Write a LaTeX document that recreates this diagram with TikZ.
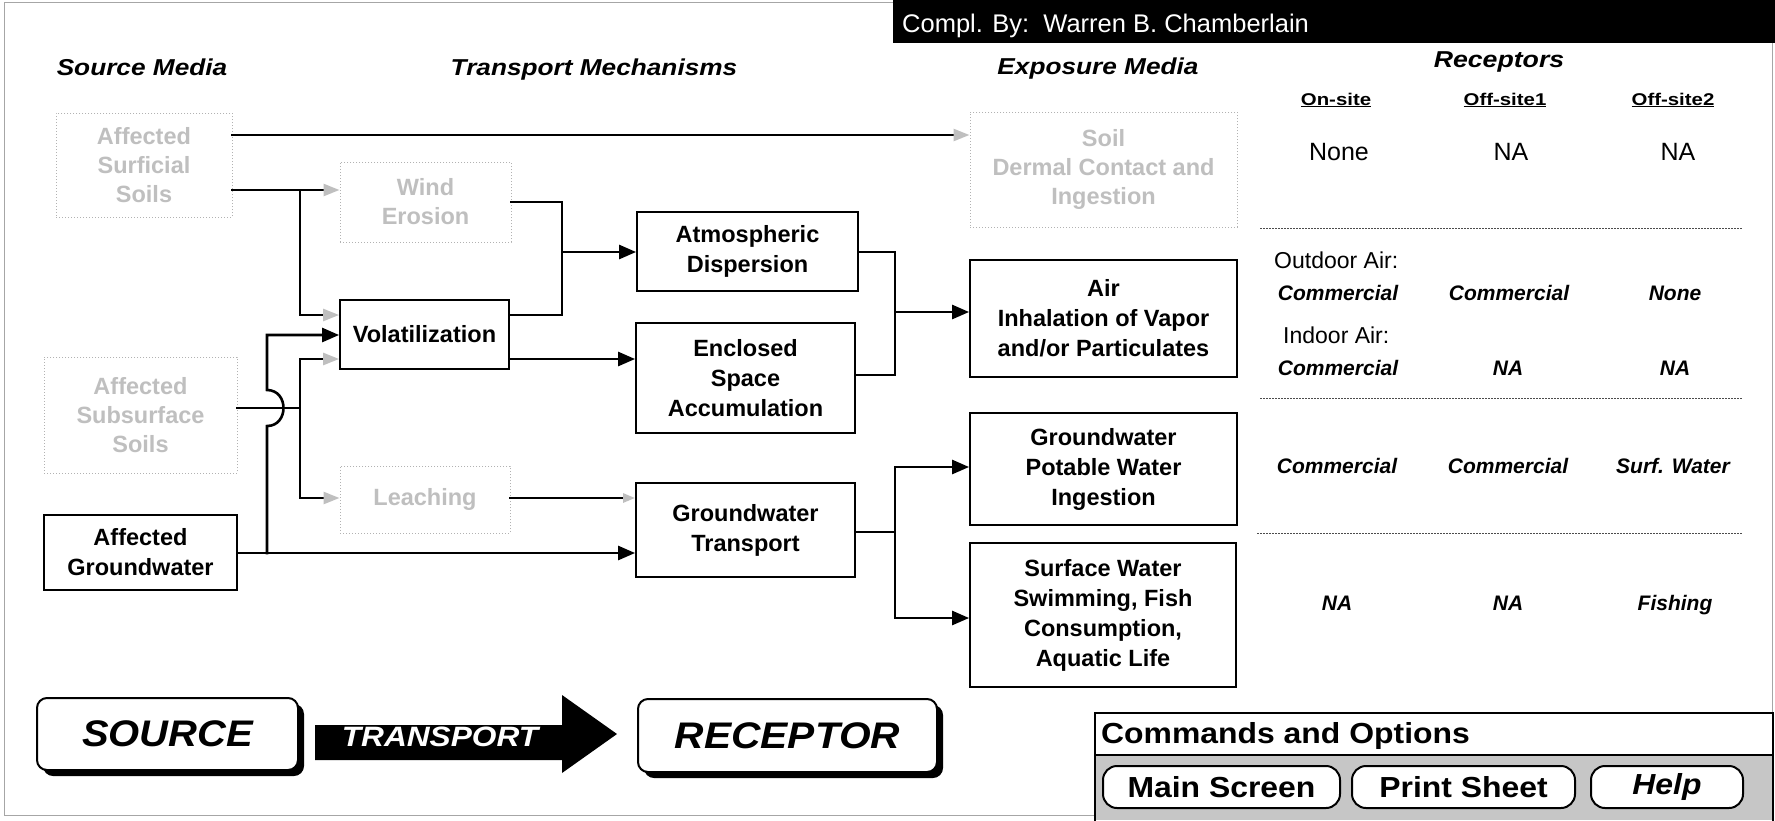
\documentclass[tikz,border=0pt]{standalone}
\usepackage{fontspec}
\setmainfont{Liberation Sans}
\usepackage{graphicx}
\usetikzlibrary{arrows.meta}
\newcommand{\myfs}[2]{\fontsize{#1}{#2}\selectfont}
\newcommand{\hst}[2]{\scalebox{#1}[1]{#2}}
\tikzset{
  bx/.style={draw, line width=1.8, fill=white, align=center, inner sep=0, font=\bfseries\myfs{23.5}{30}},
  gbx/.style={draw=gray!60, dotted, line width=1, fill=white, align=center, inner sep=0, text=gray!50, font=\bfseries\myfs{23.5}{29}},
  hdr/.style={anchor=base, inner sep=0, font=\bfseries\itshape\myfs{23}{27}},
  sub/.style={anchor=base, inner sep=0, font=\bfseries\myfs{17}{20}},
  cellr/.style={inner sep=0, font=\myfs{25}{30}},
  cellb/.style={inner sep=0, font=\bfseries\itshape\myfs{21}{25}},
  lab/.style={anchor=west, inner sep=0, font=\myfs{23}{28}},
  conn/.style={line width=2.6, line cap=rect},
  barrow/.style={-{Triangle[length=17pt,width=14pt]}},
  garrow/.style={-{Triangle[length=16pt,width=12pt,color=gray!50]}},
  sgarrow/.style={-{Triangle[length=12pt,width=9pt,color=gray!50]}},
  tdot/.style={black!70, line width=1, dash pattern=on 1.5pt off 1.5pt},
  btn/.style={draw, line width=2, fill=white, rounded corners=14, inner sep=0, font=\bfseries\myfs{29}{32}},
  bigbox/.style={draw, line width=2, fill=white, rounded corners=10, inner sep=0, font=\bfseries\itshape\myfs{37}{40}}
}
\begin{document}
\begin{tikzpicture}[x=1pt,y=-1pt]
\useasboundingbox (0,0) rectangle (1775,820);
\fill[white] (0,0) rectangle (1775,820);
\draw[gray!70, line width=1] (4,2) rectangle (1772,815);
% title bar
\fill[black] (893,0) rectangle (1775,43);
\node[anchor=base west, text=white, font=\myfs{25.5}{30}, inner sep=0] (compl) at (902,32) {Compl. By:\ \ Warren B. Chamberlain};
% headers
\node[hdr] (hsrc) at (142,75) {\hst{1.14}{Source Media}};
\node[hdr] (htr) at (594,75) {\hst{1.14}{Transport Mechanisms}};
\node[hdr] (hexp) at (1098,74) {\hst{1.14}{Exposure Media}};
\node[hdr] (hrec) at (1499,67) {\hst{1.16}{Receptors}};
\node[sub] (on) at (1336,105) {\hst{1.2}{\underline{On-site}}};
\node[sub] (off1) at (1505,105) {\hst{1.2}{\underline{Off-site1}}};
\node[sub] (off2) at (1673,105) {\hst{1.2}{\underline{Off-site2}}};
% boxes
\node[gbx, minimum width=176, minimum height=104] (surf) at (144,165) {Affected\\Surficial\\Soils};
\node[gbx, minimum width=193, minimum height=116] (subs) at (140.5,415) {Affected\\Subsurface\\Soils};
\node[bx, minimum width=193, minimum height=75] (gw) at (140.5,552.5) {Affected\\Groundwater};
\node[gbx, minimum width=171, minimum height=80] (wind) at (425.5,202) {Wind\\Erosion};
\node[bx, minimum width=169, minimum height=69] (vol) at (424.5,334.5) {Volatilization};
\node[gbx, minimum width=170, minimum height=67] (leach) at (425,499.5) {Leaching};
\node[bx, minimum width=221, minimum height=79] (atm) at (747.5,251.5) {Atmospheric\\Dispersion};
\node[bx, minimum width=219, minimum height=110] (encl) at (745.5,378) {Enclosed\\Space\\Accumulation};
\node[bx, minimum width=219, minimum height=94] (gwt) at (745.5,530) {Groundwater\\Transport};
\node[gbx, minimum width=267, minimum height=115] (soil) at (1103.5,169.5) {Soil\\Dermal Contact and\\Ingestion};
\node[bx, minimum width=267, minimum height=117] (air) at (1103.5,318.5) {Air\\Inhalation of Vapor\\and/or Particulates};
\node[bx, minimum width=267, minimum height=112] (gwp) at (1103.5,469) {Groundwater\\Potable Water\\Ingestion};
\node[bx, minimum width=266, minimum height=144] (sw) at (1103,615) {Surface Water\\Swimming, Fish\\Consumption,\\Aquatic Life};
% junction points
\coordinate (ja) at (300,190);
\coordinate (jb) at (300,315);
\coordinate (jc) at (300,359);
\coordinate (jd) at (300,498);
\coordinate (je) at (300,408);
\coordinate (wk) at (562,202);
\coordinate (wl) at (562,315);
\coordinate (wm) at (562,252);
\coordinate (hb) at (267,553);
\coordinate (ha) at (267,426);
\coordinate (hc) at (267,390);
\coordinate (hd) at (267,335);
\coordinate (ak) at (895,252);
\coordinate (al) at (895,375);
\coordinate (am) at (895,312);
\coordinate (gk) at (895,532);
\coordinate (gl) at (895,467);
\coordinate (gm) at (895,618);
% connectors
\draw[conn, garrow] (surf.east |- 0,135) -- (soil.west |- 0,135);
\draw[conn] (surf.east |- ja) -- (ja);
\draw[conn, garrow] (ja) -- (wind.west |- ja);
\draw[conn] (ja) -- (jb);
\draw[conn, garrow] (jb) -- (vol.west |- jb);
\draw[conn] (wind.east |- wk) -- (wk) -- (wl) -- (vol.east |- wl);
\draw[conn, barrow] (wm) -- (atm.west |- wm);
\draw[conn, barrow] (vol.east |- jc) -- (encl.west |- jc);
\draw[conn] (subs.east |- je) -- (je);
\draw[conn] (jc) -- (jd);
\draw[conn, garrow] (jc) -- (vol.west |- jc);
\draw[conn, garrow] (jd) -- (leach.west |- jd);
\draw[conn, barrow] (gw.east |- hb) -- (gwt.west |- hb);
\draw[conn, barrow] (hb) -- (ha) .. controls (289,426) and (289,390) .. (hc) -- (hd) -- (vol.west |- hd);
\draw[conn, sgarrow] (leach.east |- jd) -- (gwt.west |- jd);
\draw[conn] (atm.east |- ak) -- (ak) -- (al) -- (encl.east |- al);
\draw[conn, barrow] (am) -- (air.west |- am);
\draw[conn] (gwt.east |- gk) -- (gk);
\draw[conn] (gl) -- (gm);
\draw[conn, barrow] (gl) -- (gwp.west |- gl);
\draw[conn, barrow] (gm) -- (sw.west |- gm);
% receptor table
\node[cellr] (r1a) at (1339,152) {None};
\node[cellr] (r1b) at (1511,152) {NA};
\node[cellr] (r1c) at (1678,152) {NA};
\draw[tdot] (1260,228) -- (1742,228);
\node[lab] (outd) at (1274,260) {Outdoor Air:};
\node[cellb] (r2a) at (1338,293) {Commercial};
\node[cellb] (r2b) at (1509,293) {Commercial};
\node[cellb] (r2c) at (1675,293) {None};
\node[lab] (ind) at (1283,335) {Indoor Air:};
\node[cellb] (r3a) at (1338,368) {Commercial};
\node[cellb] (r3b) at (1508,368) {NA};
\node[cellb] (r3c) at (1675,368) {NA};
\draw[tdot] (1260,398) -- (1742,398);
\node[cellb] (r4a) at (1337,466) {Commercial};
\node[cellb] (r4b) at (1508,466) {Commercial};
\node[cellb] (r4c) at (1673,466) {Surf. Water};
\draw[tdot] (1257,533) -- (1742,533);
\node[cellb] (r5a) at (1337,603) {NA};
\node[cellb] (r5b) at (1508,603) {NA};
\node[cellb] (r5c) at (1675,605) {Fishing};
% bottom legend
\fill[rounded corners=10] (43,704) rectangle (304,776);
\node[bigbox, minimum width=261, minimum height=72] (source) at (167.5,734) {\hst{1.08}{SOURCE}};
\fill (315,725) -- (562,725) -- (562,695) -- (617,734) -- (562,773) -- (562,760) -- (315,760) -- cycle;
\node[text=white, inner sep=0, font=\bfseries\itshape\myfs{28}{30}] (transport) at (440,737) {\hst{1.13}{TRANSPORT}};
\fill[rounded corners=10] (644,705) rectangle (943,778);
\node[bigbox, minimum width=299, minimum height=73] (receptor) at (787.5,735.5) {\hst{1.1}{RECEPTOR}};
% commands panel
\draw[line width=1.5, fill=white] (1095,713) rectangle (1773,825);
\fill[gray!45] (1096,755) rectangle (1772,820);
\draw[line width=1.5] (1095,755) -- (1773,755);
\node[anchor=west, inner sep=0, font=\bfseries\myfs{29}{32}] (cmd) at (1101,736) {\hst{1.1}{Commands and Options}};
\node[btn, minimum width=237, minimum height=42] (mains) at (1221.5,787) {\hst{1.1}{Main Screen}};
\node[btn, minimum width=223, minimum height=42] (prints) at (1463.5,787) {\hst{1.1}{Print Sheet}};
\node[btn, minimum width=152, minimum height=42, font=\bfseries\itshape\myfs{29}{32}] (help) at (1667,787) {\hst{1.1}{Help}};
\end{tikzpicture}
\end{document}
